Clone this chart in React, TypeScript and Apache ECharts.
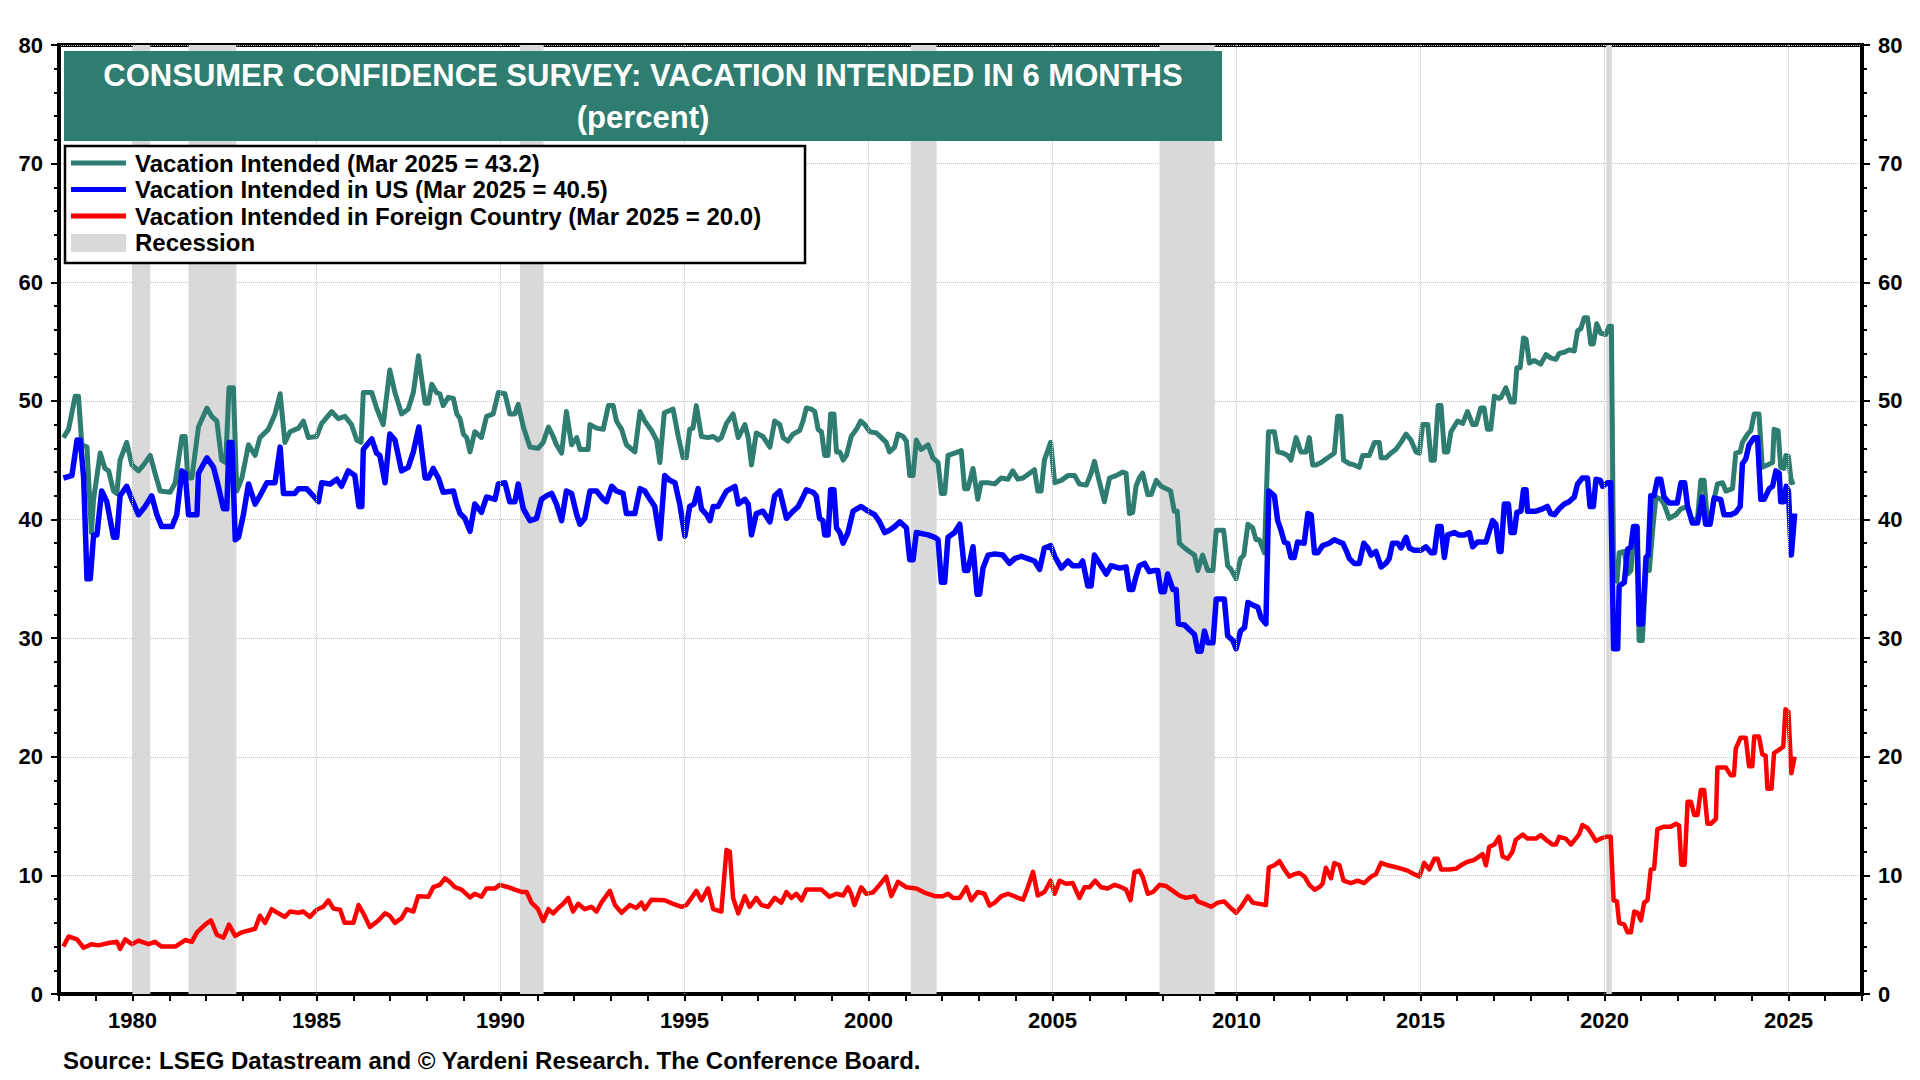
import React, { useEffect, useRef } from "react";
import * as echarts from "echarts";

const FONT = '"Liberation Sans", Arial, Helvetica, sans-serif';

const titleLines = ["CONSUMER CONFIDENCE SURVEY: VACATION INTENDED IN 6 MONTHS", "(percent)"];
const legendLabels = [
  "Vacation Intended (Mar 2025 = 43.2)",
  "Vacation Intended in US (Mar 2025 = 40.5)",
  "Vacation Intended in Foreign Country (Mar 2025 = 20.0)",
  "Recession",
];
const sourceText = "Source: LSEG Datastream and \u00a9 Yardeni Research. The Conference Board.";

const seriesColors = ["#2f7d70", "#0000ff", "#ff0000"];
const seriesWidths = [5, 5.5, 4.5];
const recessionColor = "#d9d9d9";

// x-axis: decimal years
const xMin = 1978;
const xMax = 2027;
const labelYears = [1980, 1985, 1990, 1995, 2000, 2005, 2010, 2015, 2020, 2025];
const yMin = 0;
const yMax = 80;
const yStep = 10;

const recessions: [number, number][] = [
  [1980.0, 1980.48],
  [1981.52, 1982.82],
  [1990.53, 1991.17],
  [2001.15, 2001.85],
  [2007.91, 2009.41],
  [2020.05, 2020.2],
];

const vacationIntended: [number, number][] = [
  [1978.12, 46.9], [1978.26, 47.6], [1978.44, 50.4], [1978.53, 50.4], [1978.62, 46.3], [1978.76, 46.1], [1978.88, 38.9], [1978.94, 41.7],
  [1979.12, 45.6], [1979.25, 44.3], [1979.35, 44.1], [1979.48, 42.4], [1979.57, 42.2], [1979.66, 45.0], [1979.84, 46.5], [1979.98, 44.6],
  [1980.16, 44.1], [1980.3, 44.6], [1980.48, 45.4], [1980.61, 43.9], [1980.75, 42.4], [1981.02, 42.3], [1981.16, 43.1], [1981.34, 47.0],
  [1981.43, 47.0], [1981.5, 43.5], [1981.61, 43.5], [1981.79, 47.8], [1982.02, 49.4], [1982.15, 48.7], [1982.29, 48.3], [1982.42, 45.0],
  [1982.53, 44.8], [1982.62, 51.1], [1982.74, 51.1], [1982.83, 42.4], [1982.97, 43.5], [1983.15, 46.3], [1983.33, 45.4], [1983.46, 46.9],
  [1983.69, 47.6], [1983.87, 48.9], [1984.01, 50.6], [1984.14, 46.5], [1984.28, 47.4], [1984.51, 47.7], [1984.64, 48.3], [1984.78, 46.9],
  [1985.0, 47.0], [1985.14, 48.1], [1985.41, 49.1], [1985.59, 48.5], [1985.77, 48.7], [1985.95, 48.0], [1986.09, 46.7], [1986.21, 46.5],
  [1986.27, 50.7], [1986.5, 50.7], [1986.63, 49.4], [1986.81, 48.0], [1986.99, 52.6], [1987.13, 50.7], [1987.31, 48.9], [1987.49, 49.3],
  [1987.63, 50.7], [1987.77, 53.8], [1987.95, 49.8], [1988.04, 49.8], [1988.13, 51.4], [1988.26, 50.7], [1988.35, 50.6], [1988.44, 49.6],
  [1988.58, 50.3], [1988.72, 50.2], [1988.81, 48.9], [1988.9, 48.5], [1988.99, 47.2], [1989.08, 46.9], [1989.17, 45.7], [1989.3, 47.4],
  [1989.48, 46.9], [1989.62, 48.7], [1989.8, 48.9], [1989.94, 50.7], [1990.12, 50.6], [1990.25, 48.9], [1990.39, 48.9], [1990.48, 49.7],
  [1990.62, 47.8], [1990.8, 46.1], [1991.02, 46.0], [1991.16, 46.5], [1991.3, 47.8], [1991.43, 47.0], [1991.52, 46.3], [1991.66, 45.6],
  [1991.79, 49.1], [1991.93, 46.3], [1992.07, 46.9], [1992.16, 45.9], [1992.38, 45.9], [1992.43, 48.0], [1992.61, 47.7], [1992.79, 47.6],
  [1992.93, 49.6], [1993.06, 49.6], [1993.15, 48.3], [1993.29, 47.6], [1993.42, 46.3], [1993.65, 45.7], [1993.79, 49.1], [1993.92, 48.3],
  [1994.1, 47.5], [1994.24, 46.7], [1994.33, 44.8], [1994.45, 49.0], [1994.69, 49.3], [1994.83, 47.0], [1994.96, 45.2], [1995.05, 45.2],
  [1995.14, 47.6], [1995.23, 47.7], [1995.32, 49.6], [1995.46, 47.0], [1995.64, 46.9], [1995.78, 47.0], [1995.91, 46.7], [1996.0, 46.9],
  [1996.14, 48.1], [1996.32, 48.9], [1996.46, 46.9], [1996.64, 48.0], [1996.73, 46.9], [1996.82, 44.6], [1996.95, 47.3], [1997.13, 47.0],
  [1997.32, 46.1], [1997.45, 48.3], [1997.59, 48.0], [1997.68, 46.9], [1997.81, 46.6], [1997.95, 47.2], [1998.13, 47.5], [1998.22, 48.3],
  [1998.31, 49.4], [1998.45, 49.3], [1998.54, 49.1], [1998.63, 47.6], [1998.72, 47.4], [1998.81, 45.4], [1998.9, 45.4], [1998.97, 48.9],
  [1999.06, 48.9], [1999.13, 45.7], [1999.22, 45.7], [1999.31, 45.0], [1999.4, 45.4], [1999.53, 47.0], [1999.67, 47.6], [1999.79, 48.3],
  [1999.9, 48.0], [2000.03, 47.4], [2000.21, 47.3], [2000.35, 46.9], [2000.48, 46.5], [2000.57, 45.7], [2000.71, 46.1], [2000.8, 47.2],
  [2000.94, 47.0], [2001.03, 46.6], [2001.12, 43.7], [2001.21, 43.7], [2001.3, 46.7], [2001.43, 45.9], [2001.62, 46.3], [2001.75, 45.2],
  [2001.89, 44.8], [2001.98, 42.2], [2002.07, 42.2], [2002.16, 45.4], [2002.34, 45.6], [2002.52, 45.8], [2002.61, 42.6], [2002.7, 42.6],
  [2002.84, 44.3], [2002.97, 41.7], [2003.06, 43.1], [2003.25, 43.1], [2003.43, 43.0], [2003.61, 43.5], [2003.79, 43.4], [2003.92, 44.1],
  [2004.06, 43.4], [2004.2, 43.5], [2004.38, 43.9], [2004.51, 44.2], [2004.6, 42.4], [2004.69, 42.4], [2004.78, 45.0], [2004.95, 46.5],
  [2005.06, 43.1], [2005.24, 43.3], [2005.42, 43.7], [2005.6, 43.7], [2005.73, 43.0], [2005.92, 42.9], [2006.05, 43.9], [2006.14, 44.9],
  [2006.28, 43.1], [2006.41, 41.5], [2006.55, 43.5], [2006.73, 43.7], [2006.91, 44.0], [2007.0, 43.9], [2007.09, 40.5], [2007.18, 40.6],
  [2007.27, 42.8], [2007.36, 43.5], [2007.45, 43.9], [2007.59, 42.1], [2007.68, 42.1], [2007.82, 43.3], [2007.95, 42.8], [2008.09, 42.6],
  [2008.21, 42.4], [2008.31, 40.7], [2008.39, 40.7], [2008.45, 38.0], [2008.59, 37.6], [2008.72, 37.3], [2008.86, 37.0], [2008.95, 35.7],
  [2009.08, 37.0], [2009.22, 35.7], [2009.36, 35.7], [2009.45, 39.1], [2009.65, 39.1], [2009.76, 36.1], [2009.85, 35.8], [2009.99, 35.0],
  [2010.11, 36.7], [2010.2, 37.0], [2010.31, 39.6], [2010.44, 39.3], [2010.53, 38.3], [2010.62, 38.3], [2010.76, 37.2], [2010.87, 47.4],
  [2011.03, 47.4], [2011.12, 45.7], [2011.26, 45.6], [2011.39, 45.4], [2011.48, 45.0], [2011.62, 46.9], [2011.75, 45.7], [2011.89, 45.7],
  [2011.98, 46.9], [2012.07, 44.6], [2012.16, 44.6], [2012.3, 44.8], [2012.43, 45.1], [2012.57, 45.4], [2012.66, 45.6], [2012.75, 48.7],
  [2012.84, 48.7], [2012.91, 45.0], [2013.07, 44.7], [2013.2, 44.6], [2013.34, 44.4], [2013.43, 45.4], [2013.61, 45.4], [2013.75, 46.5],
  [2013.88, 46.5], [2013.93, 45.2], [2014.06, 45.2], [2014.2, 45.6], [2014.33, 45.9], [2014.47, 46.5], [2014.61, 47.2], [2014.74, 46.7],
  [2014.88, 45.7], [2014.97, 45.6], [2015.06, 48.0], [2015.2, 48.0], [2015.29, 45.0], [2015.38, 45.0], [2015.48, 49.6], [2015.56, 49.6],
  [2015.65, 45.7], [2015.74, 45.7], [2015.83, 47.4], [2016.01, 48.3], [2016.15, 48.1], [2016.28, 49.1], [2016.42, 48.0], [2016.51, 48.0],
  [2016.64, 49.4], [2016.73, 49.4], [2016.82, 47.6], [2016.91, 47.6], [2017.01, 50.4], [2017.14, 50.2], [2017.19, 50.3], [2017.32, 51.1],
  [2017.46, 49.9], [2017.55, 49.9], [2017.62, 52.8], [2017.71, 52.8], [2017.8, 55.3], [2017.87, 55.2], [2017.96, 53.2], [2018.09, 53.4],
  [2018.27, 53.1], [2018.41, 53.9], [2018.55, 53.6], [2018.68, 53.5], [2018.77, 54.0], [2018.91, 54.1], [2019.04, 54.3], [2019.18, 54.2],
  [2019.27, 55.9], [2019.36, 56.1], [2019.45, 57.0], [2019.54, 57.0], [2019.63, 54.8], [2019.7, 54.8], [2019.79, 56.5], [2019.9, 55.7],
  [2020.04, 55.6], [2020.13, 56.3], [2020.19, 56.3], [2020.25, 35.0], [2020.34, 34.8], [2020.4, 37.2], [2020.54, 37.3], [2020.63, 35.4],
  [2020.72, 35.7], [2020.81, 39.3], [2020.9, 39.3], [2020.94, 29.8], [2021.03, 29.8], [2021.13, 35.7], [2021.22, 35.7], [2021.31, 39.1],
  [2021.4, 41.9], [2021.53, 41.7], [2021.62, 41.3], [2021.76, 40.1], [2021.94, 40.4], [2022.08, 40.9], [2022.26, 41.1], [2022.39, 39.9],
  [2022.53, 40.1], [2022.62, 43.3], [2022.71, 43.3], [2022.8, 39.8], [2022.89, 39.9], [2022.98, 41.7], [2023.07, 43.0], [2023.21, 43.1],
  [2023.3, 42.4], [2023.48, 42.6], [2023.57, 45.6], [2023.69, 45.7], [2023.75, 46.5], [2023.89, 47.2], [2023.98, 47.5], [2024.07, 48.9],
  [2024.2, 48.9], [2024.29, 44.4], [2024.43, 44.6], [2024.57, 44.8], [2024.61, 47.6], [2024.72, 47.5], [2024.79, 44.4], [2024.88, 44.3],
  [2024.93, 45.4], [2025.0, 45.3], [2025.08, 43.1], [2025.17, 43.2],
];

const vacationUS: [number, number][] = [
  [1978.12, 43.5], [1978.35, 43.7], [1978.49, 46.7], [1978.58, 46.7], [1978.67, 43.5], [1978.76, 35.0], [1978.85, 35.0], [1978.94, 38.7],
  [1979.03, 38.7], [1979.16, 42.4], [1979.3, 41.5], [1979.48, 38.5], [1979.57, 38.5], [1979.66, 42.0], [1979.84, 42.8], [1979.98, 41.7],
  [1980.16, 40.4], [1980.34, 41.1], [1980.52, 42.0], [1980.66, 40.4], [1980.79, 39.4], [1981.07, 39.4], [1981.2, 40.4], [1981.34, 44.1],
  [1981.43, 43.9], [1981.52, 40.4], [1981.75, 40.4], [1981.79, 43.9], [1982.02, 45.2], [1982.2, 44.4], [1982.33, 42.8], [1982.47, 40.9],
  [1982.56, 40.9], [1982.62, 46.5], [1982.7, 46.5], [1982.79, 38.3], [1982.88, 38.5], [1983.01, 40.4], [1983.15, 43.0], [1983.33, 41.3],
  [1983.46, 42.0], [1983.65, 43.1], [1983.87, 43.1], [1984.01, 46.1], [1984.1, 42.2], [1984.41, 42.2], [1984.51, 42.6], [1984.73, 42.6],
  [1984.91, 42.0], [1985.05, 41.5], [1985.14, 43.1], [1985.37, 43.0], [1985.55, 43.4], [1985.68, 42.8], [1985.86, 44.1], [1986.04, 43.7],
  [1986.15, 41.1], [1986.23, 41.1], [1986.27, 45.9], [1986.5, 46.8], [1986.63, 45.6], [1986.72, 45.4], [1986.86, 43.1], [1986.99, 47.2],
  [1987.13, 46.7], [1987.31, 44.1], [1987.49, 44.4], [1987.63, 45.7], [1987.78, 47.8], [1987.95, 43.5], [1988.04, 43.5], [1988.17, 44.3],
  [1988.31, 43.5], [1988.44, 42.3], [1988.72, 42.4], [1988.81, 41.3], [1988.9, 40.5], [1989.03, 40.1], [1989.17, 39.0], [1989.3, 41.3],
  [1989.48, 40.6], [1989.62, 41.9], [1989.85, 41.7], [1989.94, 43.0], [1990.12, 43.1], [1990.25, 41.5], [1990.39, 41.5], [1990.48, 43.0],
  [1990.62, 40.9], [1990.8, 39.9], [1990.98, 40.1], [1991.11, 41.7], [1991.25, 42.0], [1991.39, 42.2], [1991.52, 41.3], [1991.66, 39.9],
  [1991.79, 42.4], [1991.93, 42.2], [1992.07, 40.4], [1992.16, 39.6], [1992.29, 40.1], [1992.43, 42.4], [1992.61, 42.4], [1992.79, 41.7],
  [1992.88, 41.5], [1993.02, 42.8], [1993.15, 42.4], [1993.33, 42.2], [1993.42, 40.5], [1993.65, 40.5], [1993.79, 42.6], [1993.92, 42.4],
  [1994.06, 41.7], [1994.19, 41.1], [1994.33, 38.4], [1994.46, 43.7], [1994.6, 43.3], [1994.74, 43.1], [1994.87, 41.3], [1995.01, 38.6],
  [1995.14, 41.1], [1995.26, 41.3], [1995.37, 42.6], [1995.46, 40.9], [1995.6, 40.4], [1995.69, 39.9], [1995.78, 41.1], [1995.91, 41.1],
  [1996.14, 42.4], [1996.37, 42.8], [1996.46, 41.3], [1996.64, 41.7], [1996.73, 41.3], [1996.82, 38.7], [1996.95, 40.5], [1997.13, 40.7],
  [1997.32, 39.8], [1997.45, 42.0], [1997.59, 42.4], [1997.77, 40.1], [1997.95, 40.7], [1998.09, 41.1], [1998.22, 41.9], [1998.31, 42.5],
  [1998.49, 42.3], [1998.58, 42.0], [1998.67, 40.1], [1998.76, 39.9], [1998.81, 38.7], [1998.9, 38.7], [1998.97, 42.5], [1999.06, 42.5],
  [1999.13, 39.3], [1999.22, 38.9], [1999.31, 38.0], [1999.44, 38.9], [1999.58, 40.7], [1999.8, 41.1], [1999.99, 40.7], [2000.17, 40.4],
  [2000.3, 39.8], [2000.44, 38.9], [2000.57, 39.1], [2000.71, 39.4], [2000.85, 39.8], [2001.03, 39.3], [2001.12, 36.6], [2001.21, 36.6],
  [2001.3, 38.9], [2001.62, 38.7], [2001.8, 38.5], [2001.89, 38.3], [2001.98, 34.7], [2002.07, 34.7], [2002.16, 38.5], [2002.34, 38.9],
  [2002.48, 39.6], [2002.61, 35.7], [2002.7, 35.7], [2002.84, 37.7], [2002.95, 33.7], [2003.02, 33.7], [2003.11, 35.9], [2003.25, 37.0],
  [2003.43, 37.1], [2003.65, 37.0], [2003.83, 36.3], [2003.97, 36.7], [2004.15, 36.9], [2004.33, 36.7], [2004.51, 36.5], [2004.65, 35.8],
  [2004.78, 37.6], [2004.95, 37.8], [2005.06, 36.9], [2005.24, 35.9], [2005.42, 36.5], [2005.55, 36.1], [2005.73, 36.1], [2005.82, 36.5],
  [2005.96, 34.4], [2006.05, 34.4], [2006.14, 37.0], [2006.32, 36.1], [2006.46, 35.4], [2006.59, 36.1], [2006.82, 35.9], [2007.0, 36.0],
  [2007.09, 34.1], [2007.18, 34.1], [2007.27, 35.2], [2007.36, 36.1], [2007.5, 36.3], [2007.63, 35.6], [2007.77, 35.7], [2007.86, 35.7],
  [2007.95, 33.9], [2008.04, 33.9], [2008.13, 35.4], [2008.27, 34.1], [2008.36, 34.1], [2008.42, 31.2], [2008.59, 31.1], [2008.72, 30.7],
  [2008.86, 30.3], [2008.95, 28.9], [2009.04, 28.9], [2009.13, 30.6], [2009.22, 29.6], [2009.36, 29.6], [2009.45, 33.3], [2009.67, 33.3],
  [2009.76, 30.2], [2009.9, 29.8], [2009.99, 29.1], [2010.11, 30.6], [2010.22, 30.9], [2010.31, 33.0], [2010.44, 32.8], [2010.58, 32.6],
  [2010.67, 31.7], [2010.8, 31.2], [2010.88, 42.4], [2011.03, 42.0], [2011.12, 39.9], [2011.21, 39.1], [2011.3, 38.1], [2011.39, 38.0],
  [2011.48, 36.8], [2011.57, 36.8], [2011.66, 38.1], [2011.84, 38.0], [2011.94, 40.5], [2012.03, 40.4], [2012.12, 37.2], [2012.21, 37.2],
  [2012.34, 37.8], [2012.52, 38.0], [2012.66, 38.3], [2012.8, 38.1], [2012.89, 38.0], [2012.98, 37.4], [2013.07, 36.7], [2013.2, 36.3],
  [2013.34, 36.3], [2013.46, 38.0], [2013.57, 37.6], [2013.66, 37.0], [2013.79, 37.3], [2013.93, 36.0], [2014.06, 36.3], [2014.15, 36.7],
  [2014.24, 38.0], [2014.38, 38.0], [2014.47, 37.6], [2014.61, 38.5], [2014.7, 37.6], [2014.83, 37.4], [2015.01, 37.4], [2015.15, 37.7],
  [2015.29, 37.2], [2015.38, 37.2], [2015.47, 39.4], [2015.56, 39.4], [2015.65, 36.8], [2015.74, 38.7], [2015.92, 38.9], [2016.05, 38.7],
  [2016.19, 38.7], [2016.33, 38.9], [2016.42, 37.7], [2016.55, 38.1], [2016.78, 38.1], [2016.96, 39.9], [2017.05, 39.6], [2017.14, 37.3],
  [2017.19, 37.3], [2017.28, 41.3], [2017.39, 41.3], [2017.46, 38.9], [2017.55, 38.9], [2017.62, 40.6], [2017.73, 40.7], [2017.8, 42.5],
  [2017.87, 42.5], [2017.91, 40.7], [2018.14, 40.7], [2018.32, 40.9], [2018.45, 41.1], [2018.54, 40.5], [2018.64, 40.4], [2018.77, 40.9],
  [2018.91, 41.3], [2019.04, 41.5], [2019.18, 41.9], [2019.27, 43.0], [2019.4, 43.5], [2019.54, 43.5], [2019.61, 41.1], [2019.7, 41.1],
  [2019.77, 43.4], [2019.89, 43.3], [2019.95, 42.8], [2020.08, 43.1], [2020.17, 43.1], [2020.25, 29.1], [2020.36, 29.1], [2020.4, 34.4],
  [2020.54, 34.7], [2020.63, 37.5], [2020.72, 37.7], [2020.79, 39.4], [2020.88, 39.4], [2020.94, 31.2], [2021.03, 31.2], [2021.13, 36.8],
  [2021.19, 37.0], [2021.26, 42.0], [2021.35, 42.0], [2021.44, 43.4], [2021.53, 43.4], [2021.62, 41.9], [2021.76, 41.4], [2021.98, 41.4],
  [2022.08, 43.1], [2022.18, 43.1], [2022.26, 41.1], [2022.39, 39.7], [2022.53, 39.7], [2022.66, 41.9], [2022.75, 39.6], [2022.87, 39.6],
  [2022.98, 41.8], [2023.16, 41.7], [2023.25, 40.4], [2023.43, 40.4], [2023.57, 40.6], [2023.69, 41.1], [2023.75, 44.7], [2023.84, 45.1],
  [2023.93, 46.3], [2024.07, 46.9], [2024.16, 46.9], [2024.25, 41.7], [2024.34, 41.7], [2024.48, 42.6], [2024.57, 42.8], [2024.66, 44.1],
  [2024.75, 43.9], [2024.79, 41.5], [2024.88, 41.5], [2024.94, 42.8], [2025.0, 42.4], [2025.08, 37.0], [2025.17, 40.5],
];

const vacationForeign: [number, number][] = [
  [1978.12, 4.0], [1978.26, 4.85], [1978.49, 4.6], [1978.67, 3.9], [1978.89, 4.2], [1979.07, 4.1], [1979.35, 4.3], [1979.57, 4.4],
  [1979.66, 3.8], [1979.8, 4.6], [1979.98, 4.2], [1980.16, 4.5], [1980.43, 4.2], [1980.61, 4.4], [1980.79, 4.0], [1981.16, 4.0],
  [1981.43, 4.55], [1981.61, 4.4], [1981.75, 5.2], [1981.97, 5.85], [1982.13, 6.2], [1982.29, 5.0], [1982.47, 4.75], [1982.62, 5.85],
  [1982.79, 4.9], [1982.97, 5.2], [1983.33, 5.5], [1983.46, 6.6], [1983.6, 6.0], [1983.78, 7.15], [1983.96, 6.8], [1984.14, 6.5],
  [1984.28, 6.95], [1984.51, 6.85], [1984.64, 6.95], [1984.82, 6.5], [1985.0, 7.1], [1985.18, 7.35], [1985.32, 7.9], [1985.46, 7.2],
  [1985.64, 7.1], [1985.76, 6.0], [1986.0, 6.0], [1986.14, 7.5], [1986.27, 6.8], [1986.45, 5.65], [1986.68, 6.2], [1986.86, 6.8],
  [1986.99, 6.6], [1987.13, 6.0], [1987.31, 6.4], [1987.45, 7.15], [1987.63, 6.95], [1987.76, 8.25], [1988.04, 8.2], [1988.17, 9.0],
  [1988.35, 9.2], [1988.49, 9.75], [1988.62, 9.45], [1988.76, 9.0], [1988.94, 8.8], [1989.17, 8.15], [1989.3, 8.45], [1989.48, 8.2],
  [1989.62, 8.9], [1989.85, 8.9], [1989.98, 9.2], [1990.21, 9.0], [1990.39, 8.8], [1990.57, 8.6], [1990.71, 8.6], [1990.84, 7.7],
  [1991.02, 7.15], [1991.16, 6.15], [1991.3, 7.15], [1991.43, 6.8], [1991.57, 7.25], [1991.7, 7.6], [1991.84, 8.1], [1991.97, 6.95],
  [1992.11, 7.6], [1992.29, 7.15], [1992.47, 7.35], [1992.61, 6.95], [1992.74, 7.7], [1992.97, 8.7], [1993.11, 7.5], [1993.29, 6.85],
  [1993.51, 7.5], [1993.69, 7.25], [1993.83, 7.7], [1993.92, 7.15], [1994.1, 7.95], [1994.46, 7.9], [1994.69, 7.6], [1994.92, 7.35],
  [1995.05, 7.5], [1995.19, 8.1], [1995.32, 8.7], [1995.46, 7.9], [1995.64, 8.9], [1995.78, 7.15], [1996.0, 6.95], [1996.14, 12.15],
  [1996.23, 12.0], [1996.32, 8.1], [1996.46, 6.8], [1996.64, 8.25], [1996.77, 7.35], [1996.95, 8.1], [1997.09, 7.5], [1997.27, 7.35],
  [1997.45, 8.1], [1997.63, 7.7], [1997.77, 8.6], [1997.9, 8.1], [1998.04, 8.45], [1998.18, 7.9], [1998.31, 8.8], [1998.72, 8.8],
  [1998.94, 8.2], [1999.13, 8.45], [1999.31, 8.3], [1999.44, 9.0], [1999.53, 8.45], [1999.62, 7.5], [1999.8, 9.0], [1999.94, 8.45],
  [2000.12, 8.55], [2000.3, 9.2], [2000.48, 9.9], [2000.62, 8.25], [2000.8, 9.45], [2001.03, 9.0], [2001.3, 8.9], [2001.52, 8.55],
  [2001.8, 8.25], [2002.02, 8.25], [2002.16, 8.45], [2002.3, 8.1], [2002.48, 8.1], [2002.66, 9.0], [2002.79, 7.9], [2002.97, 8.6],
  [2003.15, 8.45], [2003.29, 7.45], [2003.43, 7.7], [2003.61, 8.25], [2003.79, 8.45], [2003.92, 8.3], [2004.06, 8.1], [2004.2, 7.95],
  [2004.33, 9.0], [2004.47, 10.3], [2004.6, 8.3], [2004.78, 8.6], [2004.95, 9.55], [2005.06, 8.45], [2005.19, 9.55], [2005.37, 9.3],
  [2005.55, 9.35], [2005.73, 8.1], [2005.87, 9.0], [2006.01, 9.0], [2006.16, 9.55], [2006.32, 9.0], [2006.5, 8.9], [2006.69, 9.2],
  [2006.87, 9.0], [2007.0, 8.8], [2007.12, 7.9], [2007.23, 10.3], [2007.36, 10.4], [2007.45, 9.9], [2007.59, 8.45], [2007.73, 8.6],
  [2007.91, 9.2], [2008.09, 9.1], [2008.27, 8.7], [2008.45, 8.3], [2008.63, 8.1], [2008.86, 8.25], [2008.95, 7.8], [2009.13, 7.6],
  [2009.31, 7.35], [2009.49, 7.7], [2009.67, 7.8], [2009.81, 7.35], [2009.99, 6.85], [2010.13, 7.35], [2010.31, 8.25], [2010.44, 7.7],
  [2010.62, 7.6], [2010.8, 7.5], [2010.88, 10.65], [2011.03, 10.85], [2011.17, 11.2], [2011.3, 10.5], [2011.44, 9.9], [2011.57, 10.1],
  [2011.71, 10.2], [2011.85, 9.9], [2011.98, 9.2], [2012.12, 8.8], [2012.25, 9.0], [2012.34, 9.3], [2012.43, 10.65], [2012.57, 9.75],
  [2012.66, 11.05], [2012.8, 10.85], [2012.91, 9.55], [2013.11, 9.35], [2013.29, 9.55], [2013.47, 9.35], [2013.66, 9.9], [2013.79, 10.1],
  [2013.93, 11.05], [2014.11, 10.85], [2014.38, 10.65], [2014.65, 10.4], [2014.83, 10.1], [2014.97, 9.9], [2015.1, 11.05], [2015.24, 10.5],
  [2015.38, 11.4], [2015.47, 11.4], [2015.56, 10.5], [2015.78, 10.5], [2015.96, 10.55], [2016.1, 10.85], [2016.28, 11.15], [2016.46, 11.3],
  [2016.6, 11.6], [2016.69, 11.8], [2016.78, 10.85], [2016.87, 12.4], [2017.01, 12.6], [2017.14, 13.25], [2017.23, 11.6], [2017.37, 11.4],
  [2017.5, 12.0], [2017.59, 13.0], [2017.78, 13.45], [2017.91, 13.1], [2018.14, 13.1], [2018.27, 13.4], [2018.45, 12.9], [2018.59, 12.6],
  [2018.68, 12.6], [2018.77, 13.25], [2018.95, 13.1], [2019.09, 12.6], [2019.22, 13.1], [2019.31, 13.45], [2019.4, 14.25], [2019.54, 14.0],
  [2019.63, 13.6], [2019.77, 12.9], [2019.9, 13.1], [2020.04, 13.25], [2020.17, 13.25], [2020.25, 7.9], [2020.34, 7.8], [2020.4, 6.0],
  [2020.54, 5.85], [2020.63, 5.2], [2020.72, 5.2], [2020.81, 6.95], [2020.9, 6.85], [2020.99, 6.2], [2021.08, 7.7], [2021.17, 7.9],
  [2021.26, 10.5], [2021.35, 10.55], [2021.44, 13.9], [2021.62, 14.1], [2021.8, 14.1], [2021.94, 14.35], [2022.03, 14.2], [2022.09, 10.9],
  [2022.18, 10.9], [2022.26, 16.2], [2022.35, 16.2], [2022.44, 15.1], [2022.53, 15.1], [2022.62, 17.2], [2022.71, 17.2], [2022.8, 14.35],
  [2022.89, 14.35], [2023.03, 14.75], [2023.07, 19.1], [2023.3, 19.1], [2023.43, 18.45], [2023.52, 18.45], [2023.57, 20.7], [2023.7, 21.6],
  [2023.84, 21.6], [2023.93, 19.2], [2024.02, 19.2], [2024.07, 21.7], [2024.2, 21.7], [2024.29, 20.2], [2024.38, 20.1], [2024.43, 17.3],
  [2024.54, 17.3], [2024.61, 20.3], [2024.75, 20.6], [2024.86, 20.85], [2024.92, 24.0], [2025.0, 23.8], [2025.08, 18.6], [2025.17, 20.0],
];

const seriesData = [vacationIntended, vacationUS, vacationForeign];

function buildOption(): any {
  const axisFont = { fontFamily: FONT, fontSize: 22, fontWeight: "bold" as const, color: "#000" };
  const yAxisBase = (position: "left" | "right", grid: boolean) => ({
    type: "value",
    min: yMin,
    max: yMax,
    interval: yStep,
    position,
    axisLine: { show: true, lineStyle: { color: "#000", width: 4 } },
    axisTick: { show: true, inside: false, length: 8, lineStyle: { color: "#000", width: 2 } },
    minorTick: { show: true, splitNumber: 5, length: 5, lineStyle: { color: "#000", width: 2 } },
    axisLabel: { ...axisFont, margin: 16 },
    splitLine: { show: grid, lineStyle: { type: "dotted", color: "#c4c4c4", width: 1 } },
    minorSplitLine: { show: false },
  });

  const legendRows = [163, 189.5, 216, 242.5];
  const textStyle = (size: number, color: string, align: string) => ({
    fill: color,
    fontFamily: FONT,
    fontWeight: "bold",
    fontSize: size,
    align,
    verticalAlign: "middle",
  });

  const graphic: any[] = [
    { type: "rect", z: 100, shape: { x: 64, y: 51, width: 1158, height: 90 }, style: { fill: "#2f7d70" } },
    { type: "text", z: 101, x: 643, y: 75, style: { text: titleLines[0], ...textStyle(31, "#ffffff", "center") } },
    { type: "text", z: 101, x: 643, y: 117, style: { text: titleLines[1], ...textStyle(31, "#ffffff", "center") } },
    { type: "rect", z: 100, shape: { x: 65, y: 146, width: 740, height: 117 }, style: { fill: "#ffffff", stroke: "#000", lineWidth: 2.5 } },
  ];
  for (let i = 0; i < 3; i++) {
    graphic.push({
      type: "line",
      z: 101,
      shape: { x1: 71, y1: legendRows[i], x2: 126, y2: legendRows[i] },
      style: { stroke: seriesColors[i], lineWidth: 5 },
    });
  }
  graphic.push({ type: "rect", z: 101, shape: { x: 71, y: 234, width: 55, height: 18 }, style: { fill: recessionColor } });
  legendLabels.forEach((t, i) => {
    graphic.push({ type: "text", z: 101, x: 135, y: legendRows[i], style: { text: t, ...textStyle(24, "#000", "left") } });
  });
  graphic.push({ type: "text", z: 101, x: 63, y: 1060, style: { text: sourceText, ...textStyle(24, "#000", "left") } });

  return {
    animation: false,
    backgroundColor: "#ffffff",
    textStyle: { fontFamily: FONT },
    grid: {
      left: 59,
      right: 58,
      top: 45,
      bottom: 86,
      show: true,
      borderColor: "#000",
      borderWidth: 4,
      backgroundColor: "transparent",
    },
    xAxis: {
      type: "value",
      min: xMin,
      max: xMax,
      interval: 1,
      axisLine: { show: true, onZero: false, lineStyle: { color: "#000", width: 4 } },
      axisTick: { show: true, inside: false, length: 7, lineStyle: { color: "#000", width: 2 } },
      axisLabel: {
        ...axisFont,
        margin: 15,
        formatter: (v: number) => (labelYears.indexOf(Math.round(v)) >= 0 ? String(Math.round(v)) : ""),
      },
      splitLine: { show: false },
    },
    yAxis: [yAxisBase("left", true), yAxisBase("right", false)],
    series: [
      {
        name: "grid",
        type: "line",
        data: [],
        z: 1,
        silent: true,
        markLine: {
          silent: true,
          symbol: ["none", "none"],
          label: { show: false },
          lineStyle: { type: "dotted", color: "#c4c4c4", width: 1 },
          data: labelYears.map((y) => ({ xAxis: y })),
        },
      },
      {
        name: "Recession",
        type: "line",
        data: [],
        z: 1,
        silent: true,
        markArea: {
          silent: true,
          itemStyle: { color: recessionColor },
          data: recessions.map(([a, b]) => [{ xAxis: a }, { xAxis: b }]),
        },
      },
      ...seriesData.map((d, i) => ({
        name: legendLabels[i],
        type: "line",
        data: d,
        showSymbol: false,
        symbol: "none",
        z: 3 + (i === 1 ? 1 : 0),
        lineStyle: { color: seriesColors[i], width: seriesWidths[i], join: "round" },
        itemStyle: { color: seriesColors[i] },
      })),
    ],
    graphic,
  };
}

export default function App() {
  const ref = useRef<HTMLDivElement>(null);
  useEffect(() => {
    if (!ref.current) return;
    const chart = echarts.init(ref.current, null, { renderer: "svg" });
    chart.setOption(buildOption());
    return () => chart.dispose();
  }, []);
  return (
    <div
      ref={ref}
      style={{ position: "fixed", left: 0, top: 0, width: 1920, height: 1080, background: "#ffffff" }}
    />
  );
}
